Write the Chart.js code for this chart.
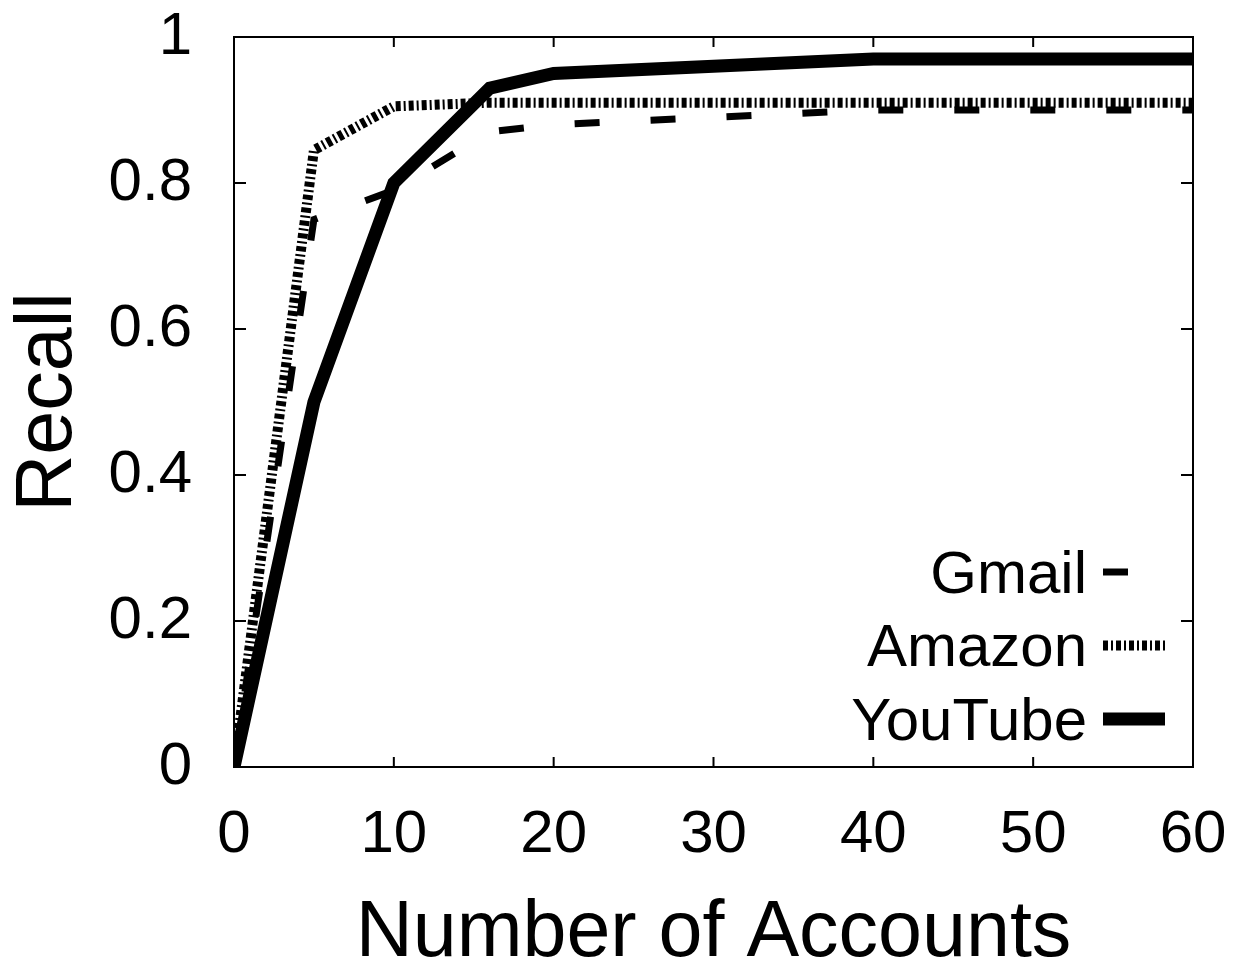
<!DOCTYPE html>
<html>
<head>
<meta charset="utf-8">
<script src="https://cdn.jsdelivr.net/npm/chart.js@4.4.1/dist/chart.umd.min.js"></script>
<style>
  html, body { margin: 0; padding: 0; background: #fff; }
  #wrap { width: 1241px; height: 966px; }
</style>
</head>
<body>
<div id="wrap"><canvas id="c" width="1241" height="966"></canvas></div>
<script>
// Recall as a function of the number of accounts, per service
const accounts      = [0, 5, 10, 16, 20, 40, 60];
const gmailRecall   = [0, 0.75, 0.79, 0.87, 0.88, 0.90, 0.90];
const amazonRecall  = [0, 0.845, 0.905, 0.91, 0.91, 0.91, 0.91];
const youtubeRecall = [0, 0.50, 0.80, 0.93, 0.95, 0.97, 0.97];

const seriesNames = ['Gmail', 'Amazon', 'YouTube'];
const xTickValues = [0, 10, 20, 30, 40, 50, 60];
const yTickValues = [0, 0.2, 0.4, 0.6, 0.8, 1];

const FONT = "'Liberation Sans', Arial, Helvetica, sans-serif";

const toPoints = ys => accounts.map((x, i) => ({ x: x, y: ys[i] }));

// Plot frame plus inward tick marks on all four sides
const framePlugin = {
  id: 'frame',
  afterDatasetsDraw(chart) {
    const { ctx, chartArea: a, scales } = chart;
    ctx.save();
    ctx.strokeStyle = '#000';
    ctx.lineWidth = 2;
    ctx.beginPath();
    scales.x.ticks.forEach(t => {
      const px = scales.x.getPixelForValue(t.value);
      if (px <= a.left + 1 || px >= a.right - 1) return;
      ctx.moveTo(px, a.bottom); ctx.lineTo(px, a.bottom - 10);
      ctx.moveTo(px, a.top);    ctx.lineTo(px, a.top + 10);
    });
    scales.y.ticks.forEach(t => {
      const py = scales.y.getPixelForValue(t.value);
      if (py <= a.top + 1 || py >= a.bottom - 1) return;
      ctx.moveTo(a.left, py);  ctx.lineTo(a.left + 12, py);
      ctx.moveTo(a.right, py); ctx.lineTo(a.right - 12, py);
    });
    ctx.stroke();
    ctx.strokeRect(a.left, a.top, a.right - a.left, a.bottom - a.top);
    ctx.restore();
  }
};

// Key in the lower right: label right-aligned, line sample after it
const keyPlugin = {
  id: 'key',
  afterDraw(chart) {
    const { ctx, chartArea: a } = chart;
    const ds = chart.data.datasets;
    const sampleEnd = a.right - 28;
    const sampleStart = sampleEnd - 62;
    const textRight = sampleStart - 16;
    const step = 73.5;
    const lastCenter = a.bottom - 49;
    ctx.save();
    ctx.font = '60px ' + FONT;
    ctx.fillStyle = '#000';
    ctx.textAlign = 'right';
    ctx.textBaseline = 'alphabetic';
    ds.forEach((d, i) => {
      const cy = lastCenter - (ds.length - 1 - i) * step;
      ctx.fillText(d.label, textRight, cy + 21.5);
      ctx.beginPath();
      ctx.strokeStyle = d.borderColor;
      ctx.lineWidth = d.borderWidth;
      ctx.lineCap = 'butt';
      ctx.setLineDash(d.borderDash || []);
      ctx.moveTo(sampleStart, cy + 1);
      ctx.lineTo(sampleEnd, cy + 1);
      ctx.stroke();
      ctx.setLineDash([]);
    });
    ctx.restore();
  }
};

const lineStyles = [
  { borderWidth: 7,  borderDash: [25, 51], order: 2 },
  { borderWidth: 10, borderDash: [5, 3, 2, 3], order: 1 },
  { borderWidth: 13, borderDash: [], order: 0 }
];
const seriesValues = [gmailRecall, amazonRecall, youtubeRecall];

new Chart(document.getElementById('c'), {
  type: 'line',
  data: {
    datasets: seriesNames.map((name, i) => ({
      label: name,
      data: toPoints(seriesValues[i]),
      borderColor: '#000',
      backgroundColor: '#000',
      borderWidth: lineStyles[i].borderWidth,
      borderDash: lineStyles[i].borderDash,
      borderCapStyle: 'butt',
      borderJoinStyle: 'miter',
      order: lineStyles[i].order,
      pointRadius: 0,
      tension: 0,
      fill: false
    }))
  },
  options: {
    responsive: false,
    animation: false,
    devicePixelRatio: 1,
    layout: { padding: { top: 37, right: 48, left: 0, bottom: 0 } },
    plugins: { legend: { display: false }, tooltip: { enabled: false } },
    scales: {
      x: {
        type: 'linear',
        min: 0, max: 60,
        afterBuildTicks: s => { s.ticks = xTickValues.map(v => ({ value: v })); },
        afterFit: s => { s.height = 199; s.paddingLeft = 0; s.paddingRight = 0; },
        grid: { display: false, drawTicks: false },
        border: { display: false },
        ticks: {
          color: '#000', padding: 38, maxRotation: 0, autoSkip: false,
          font: { family: FONT, size: 60, lineHeight: 1 }
        },
        title: {
          display: true, text: 'Number of Accounts', color: '#000',
          padding: 0,
          font: { family: FONT, size: 79, lineHeight: 0.795 }
        }
      },
      y: {
        type: 'linear',
        min: 0, max: 1,
        afterBuildTicks: s => { s.ticks = yTickValues.map(v => ({ value: v })); },
        afterFit: s => { s.width = 234; s.paddingTop = 0; s.paddingBottom = 0; },
        grid: { display: false, drawTicks: false },
        border: { display: false },
        ticks: {
          color: '#000', padding: 42, autoSkip: false,
          font: { family: FONT, size: 60, lineHeight: 1 },
          callback: v => String(Math.round(v * 10) / 10)
        },
        title: {
          display: true, text: 'Recall', color: '#000',
          padding: { top: 18, bottom: 0 },
          font: { family: FONT, size: 79, lineHeight: 0.795 }
        }
      }
    }
  },
  plugins: [framePlugin, keyPlugin]
});
</script>
</body>
</html>
